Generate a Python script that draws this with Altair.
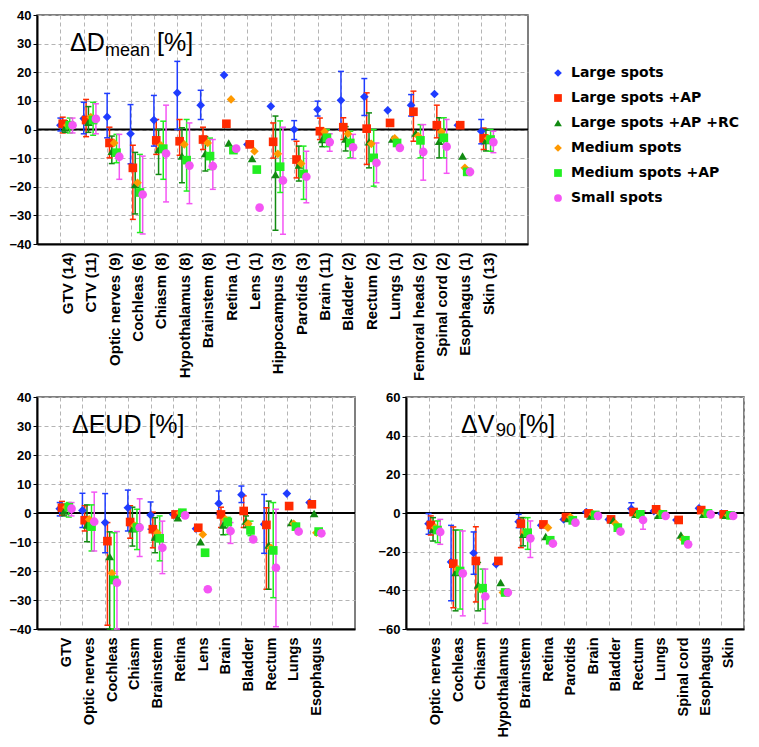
import altair as alt
import pandas as pd

SERIES = ["Large spots", "Large spots +AP", "Large spots +AP +RC",
          "Medium spots", "Medium spots +AP", "Small spots"]
COLORS = ["#1f3cff", "#ff2a00", "#118a11", "#ff9900", "#22ee22", "#f455f4"]
SHAPES = ["diamond", "square", "triangle-up", "diamond", "square", "circle"]
OFFSETS = [0.0, 0.1, 0.2, 0.3, 0.4, 0.52]
N = None

# ---------------- ΔDmean ----------------
DM_CATS = ["GTV (14)", "CTV (11)", "Optic nerves (9)", "Cochleas (6)", "Chiasm (8)",
           "Hypothalamus (8)", "Brainstem (8)", "Retina (1)", "Lens (1)", "Hippocampus (3)",
           "Parotids (3)", "Brain (11)", "Bladder (2)", "Rectum (2)", "Lungs (1)",
           "Femoral heads (2)", "Spinal cord (2)", "Esophagus (1)", "Skin (13)"]
DM_VAL = {
    "Large spots":         [1.5, 3.8, 4.4, -1.5, 3.3, 12.8, 8.5, 19.0, -5.2, 8.1, 0.0, 7.0, 10.2, 11.4, 6.7, 8.5, 12.4, 1.5, -0.6],
    "Large spots +AP":     [2.0, 3.3, -4.7, -13.4, -3.8, -4.1, -3.5, 2.0, -5.2, -4.3, -10.5, -0.6, 0.8, 0.3, 2.3, 6.2, 1.5, 1.5, -3.1],
    "Large spots +AP +RC": [0.6, 2.5, -7.6, -19.2, -7.0, -9.3, -8.4, -4.7, -10.1, -15.7, -12.4, -3.5, -3.3, -4.3, -3.3, -1.2, -4.1, -9.3, -3.8],
    "Medium spots":        [1.5, 4.3, -4.7, -18.6, -5.5, -5.2, -4.7, 10.5, -7.6, -8.5, -11.9, -0.8, -1.5, -5.0, -3.1, -2.3, -0.8, -13.4, -3.1],
    "Medium spots +AP":    [1.5, 3.3, -8.1, -22.0, -6.7, -10.7, -9.3, -7.2, -14.0, -13.0, -15.5, -2.9, -4.7, -9.9, -4.7, -3.8, -2.9, -14.8, -3.5],
    "Small spots":         [1.5, 3.7, -9.5, -22.7, -8.4, -12.6, -12.8, -6.7, -27.3, -17.8, -16.5, -4.4, -6.2, -11.6, -6.4, -7.8, -6.0, -14.8, -4.4],
}
DM_ERR = {
    "Large spots":         [(-0.5, 4), (-1.5, 9.5), (-2.9, 12.6), (-12, 8.7), (-5.8, 11.9), (0, 23.8), (3.5, 13.7), N, N, N,
                            (-3.5, 3.1), (4.7, 9.9), (0, 20.3), (4.9, 17.8), N, (4.7, 12.2), N, N, (-5, 3.5)],
    "Large spots +AP":     [(-1.2, 4.3), (-2.5, 10.5), (-9.9, 0.8), (-31.4, -5.5), (-8.7, 3.5), (-9, 3.5), (-7, 0.8), N, N, (-10, 2.3),
                            (-16.9, -4.1), (-3.5, 4), (-3.5, 4.1), (-12.2, 12.8), N, (-4.1, 13.4), (-2.9, 8.5), N, (-7, 0.5)],
    "Large spots +AP +RC": [(-1, 3), (-1, 8), (-11.9, -2.3), (-29.5, -8), (-15.7, 0), (-18.6, 0.6), (-14.5, -2.5), N, N, (-35.2, 4.7),
                            (-18, -5.8), (-6, -0.5), (-7.5, 1), (-13.4, 5.8), N, N, (-9.9, 4.1), N, (-7.5, 0)],
    "Medium spots":        [N] * 19,
    "Medium spots +AP":    [(-1.2, 4), (-2, 9.5), (-11.6, -1.7), (-36, -8.7), (-17.4, 2.9), (-21.5, 3.5), (-14, -3), N, N, (-22, 3),
                            (-24.4, -5.8), (-6, 0), (-9.9, -0.6), (-19.8, 0), N, (-9.9, 1.7), (-9.9, 4.1), N, (-7.6, 0)],
    "Small spots":         [(-1.2, 4), (-1.5, 9), (-17.4, -1.7), (-36.5, -9.3), (-25.3, 8.5), (-25.9, 2.3), (-20.9, -3.5), N, N, (-36.6, 0.8),
                            (-25.6, -7.6), (-7.6, -1.5), (-10.1, -1.7), (-18.6, -4.7), N, (-17.7, 1.7), (-15.3, 3.5), N, (-8.1, -0.6)],
}

# ---------------- ΔEUD ----------------
EU_CATS = ["GTV", "Optic nerves", "Cochleas", "Chiasm", "Brainstem", "Retina", "Lens",
           "Brain", "Bladder", "Rectum", "Lungs", "Esophagus"]
EU_VAL = {
    "Large spots":         [1.5, 0.9, -3.3, 1.8, -0.7, -0.5, -5.4, 3.3, 6.3, -3.9, 6.7, 3.6],
    "Large spots +AP":     [1.8, -2.5, -9.7, -3.1, -5.6, -0.5, -5.1, -0.5, 0.7, -4.1, 2.4, 3.0],
    "Large spots +AP +RC": [0.7, -4.1, -15.0, -5.4, -8.3, -1.6, -9.9, -4.1, -2.8, -11.0, -3.3, -0.2],
    "Medium spots":        [2.0, -2.2, -20.8, -4.3, -6.8, 0.1, -7.4, -2.2, -3.7, -12.0, -3.7, -6.8],
    "Medium spots +AP":    [2.0, -4.7, -23.1, -5.0, -8.7, 0.1, -13.7, -3.1, -6.0, -12.9, -4.7, -6.4],
    "Small spots":         [1.5, -3.0, -24.0, -5.0, -12.0, -0.8, -26.3, -6.2, -9.1, -18.9, -6.4, -7.0],
}
EU_ERR = {
    "Large spots":         [(-1, 3.6), (-5, 6.8), (-13.7, 6.7), (-6.2, 7.9), (-5.6, 3.8), N, N, (-0.5, 7.6), (3.6, 9.3), (-13.9, 6.4), N, N],
    "Large spots +AP":     [(-0.8, 4), (-6.2, 2.5), (-38.7, -3.3), (-8.7, 2.5), (-12, 0.3), N, N, (-5, 2), (-5, 5.9), (-26.3, 1.8), N, N],
    "Large spots +AP +RC": [(-1, 3), (-9.9, 2.8), (-40, -6.5), (-11.4, 2), (-13.7, -1.6), N, N, (-7.5, -1.5), (-5, -1), (-26.3, 4.1), N, N],
    "Medium spots":        [N] * 12,
    "Medium spots +AP":    [(-1.4, 3.6), (-13.1, 2.8), (-40, -6.8), (-12.6, 1.3), (-16.5, -1), N, N, (-7.4, -1.5), (-7.8, -2.8), (-29.2, 3.6), N, N],
    "Small spots":         [(-1, 3.6), (-13.1, 7.2), (-40, -6.4), (-15, 4.9), (-20.9, -2.8), N, N, (-10.5, -3.3), N, (-39.2, 1.3), N, N],
}

# ---------------- ΔV90 ----------------
V9_CATS = ["Optic nerves", "Cochleas", "Chiasm", "Hypothalamus", "Brainstem", "Retina", "Parotids",
           "Brain", "Bladder", "Rectum", "Lungs", "Spinal cord", "Esophagus", "Skin"]
V9_VAL = {
    "Large spots":         [-5.5, -25.3, -20.7, -26.5, -4.5, -6.4, -3.3, 0.5, -3.3, 2.2, 1.0, -3.6, 2.4, -0.3],
    "Large spots +AP":     [-6.2, -26.2, -24.8, -24.8, -5.5, -5.9, -2.1, -0.2, -3.3, 0.5, 1.9, -3.6, 1.5, -0.7],
    "Large spots +AP +RC": [-8.4, -30.8, -37.2, -36.0, -11.0, -12.2, -2.8, -1.5, -3.8, -0.7, -1.2, -11.4, -0.7, -1.2],
    "Medium spots":        [-7.6, -29.0, -39.4, -41.1, -10.0, -7.6, -2.1, -0.7, -5.5, -1.0, -0.2, -13.6, -0.2, -1.2],
    "Medium spots +AP":    [-8.8, -30.0, -38.9, -41.1, -10.2, -14.1, -3.8, -1.0, -7.6, -0.7, -0.7, -14.1, -0.2, -1.2],
    "Small spots":         [-9.8, -31.2, -43.2, -41.1, -13.1, -15.8, -5.0, -1.5, -9.6, -3.6, -1.5, -16.2, -0.7, -1.5],
}
V9_ERR = {
    "Large spots":         [(-11, -0.3), (-45.4, -6.4), (-31.7, -9.8), N, (-7.6, -0.7), N, N, N, N, (0.2, 5.3), N, N, N, N],
    "Large spots +AP":     [(-11.4, -1.5), (-49, -7.2), (-46, -7.1), N, (-17.9, -2.4), N, N, N, N, N, N, N, N, N],
    "Large spots +AP +RC": [(-14.5, -2.4), (-50.6, -8.8), (-50.6, -25.6), N, (-17, -2.4), N, N, N, N, N, N, N, N, N],
    "Medium spots":        [N] * 14,
    "Medium spots +AP":    [(-15.3, -4.1), (-49.7, -8.8), (-49.7, -29), N, (-18.8, -2.4), N, N, N, N, N, N, N, N, N],
    "Small spots":         [(-16.2, -3.3), (-53.2, -9.3), (-57.1, -29), N, (-23, -4.1), N, N, N, N, (-8.4, 1), N, N, N, N],
}


def frames(cats, vals, errs):
    pts, bars, caps = [], [], []
    for si, s in enumerate(SERIES):
        for ci in range(len(cats)):
            x = ci + OFFSETS[si]
            pts.append(dict(series=s, x=x, v=vals[s][ci]))
            e = errs[s][ci]
            if e is not None:
                bars.append(dict(series=s, x=x, lo=e[0], hi=e[1]))
                caps.append(dict(series=s, x=x, y=e[0]))
                caps.append(dict(series=s, x=x, y=e[1]))
    return pd.DataFrame(pts), pd.DataFrame(bars), pd.DataFrame(caps)


def panel(cats, vals, errs, xmax, ymin, ymax, ystep, w, h, texts, xfs, legend):
    pts, bars, caps = frames(cats, vals, errs)
    n = len(cats)
    arr = "[" + ",".join("'" + c + "'" for c in cats) + "]"
    xscale = alt.Scale(domain=[-1, xmax], nice=False, zero=False)
    yscale = alt.Scale(domain=[ymin, ymax], nice=False, zero=False)
    xaxis = alt.Axis(values=list(range(n + 1)), labelExpr=arr + "[datum.value] || ''",
                     labelAngle=270, labelAlign="right", labelBaseline="middle",
                     labelOffset=7, ticks=False, title=None, grid=True,
                     labelFontSize=xfs, labelPadding=8, labelFlush=False)
    yaxis = alt.Axis(values=list(range(ymin, ymax + 1, ystep)), title=None, grid=True)
    X = alt.X("x:Q", scale=xscale, axis=xaxis)
    cscale = alt.Scale(domain=SERIES, range=COLORS)
    sscale = alt.Scale(domain=SERIES, range=SHAPES)
    err_stroke = alt.Stroke("series:N", scale=cscale, legend=None)

    zero = alt.Chart(pd.DataFrame({"z": [0]})).mark_rule(color="black", strokeWidth=2).encode(
        y=alt.Y("z:Q", scale=yscale, axis=yaxis))
    rules = alt.Chart(bars).mark_rule(strokeWidth=1.5).encode(
        x=X, y=alt.Y("lo:Q", scale=yscale, axis=yaxis), y2="hi:Q", stroke=err_stroke)
    capm = alt.Chart(caps).mark_rule(strokeWidth=1.5, xOffset=-3, x2Offset=3).encode(
        x=X, x2="x:Q", y=alt.Y("y:Q", scale=yscale, axis=yaxis), stroke=err_stroke)
    if legend:
        leg = alt.Legend(title=None, orient="none", legendX=514, legendY=51, labelLimit=300)
        ccol = alt.Color("series:N", scale=cscale, legend=leg)
        cshp = alt.Shape("series:N", scale=sscale, legend=leg)
    else:
        ccol = alt.Color("series:N", scale=cscale, legend=None)
        cshp = alt.Shape("series:N", scale=sscale, legend=None)
    points = alt.Chart(pts).mark_point(filled=True, opacity=1, size=75, strokeWidth=0).encode(
        x=X, y=alt.Y("v:Q", scale=yscale, axis=yaxis), color=ccol, shape=cshp)
    layers = [zero, rules, capm, points]
    for t, tx, ty, fs in texts:
        layers.append(alt.Chart(pd.DataFrame({"t": [t]})).mark_text(
            align="left", baseline="alphabetic", fontSize=fs, font="Liberation Sans", color="black"
        ).encode(text="t:N", x=alt.value(tx), y=alt.value(ty)))
    return alt.layer(*layers).properties(width=w, height=h)


top = panel(DM_CATS, DM_VAL, DM_ERR, 20, -40, 40, 10, 491, 229,
            [("ΔD", 33, 36, 25), ("mean", 68, 41, 18), ("[%]", 120, 36, 25)], 15, True)
bl = panel(EU_CATS, EU_VAL, EU_ERR, 13, -40, 40, 10, 318, 232,
           [("ΔEUD [%]", 35, 36, 25)], 14.5, False)
br = panel(V9_CATS, V9_VAL, V9_ERR, 14, -60, 60, 20, 338, 232,
           [("ΔV", 55, 36, 25), ("90", 90, 39, 18), ("[%]", 113, 36, 25)], 14.5, False)

chart = alt.vconcat(top, alt.hconcat(bl, br, spacing=20), spacing=8).resolve_scale(
    color="independent", shape="independent"
).properties(
    padding={"left": 0, "top": 0, "right": 0, "bottom": 0}
).configure_view(stroke="#555555", strokeWidth=1.5).configure_axis(
    domainColor="black", domainWidth=2, gridColor="#b4b4b4", gridDash=[4, 3], gridWidth=1,
    labelColor="black", tickColor="black",
).configure_axisY(
    labelFont="Liberation Sans", labelFontSize=13, labelFontWeight="bold", tickSize=4, labelPadding=2,
).configure_axisX(
    labelFont="Liberation Sans", labelFontWeight="bold",
).configure_legend(
    padding=0, labelFont="DejaVu Sans", labelFontSize=14,
    labelFontWeight="bold", labelColor="black", symbolSize=60, rowPadding=11, labelOffset=6,
    symbolStrokeWidth=0,
)

chart.save("out.html", embed_options={"renderer": "svg", "actions": False})
